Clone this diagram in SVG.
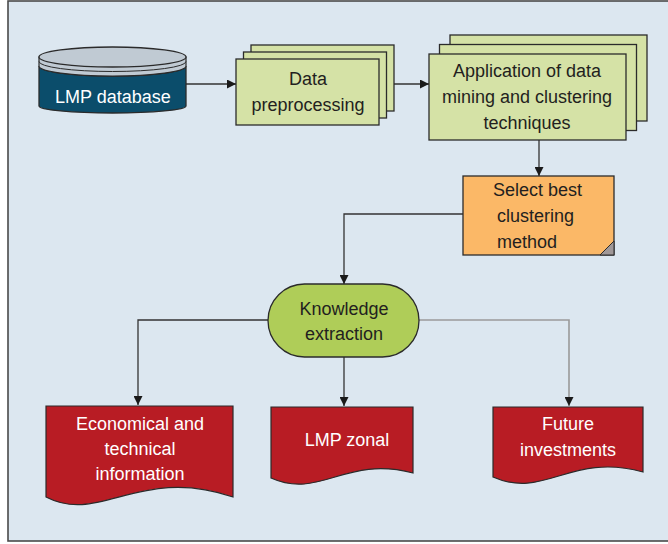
<svg xmlns="http://www.w3.org/2000/svg" width="668" height="544" viewBox="0 0 668 544">
  <defs>
    <marker id="arrow" viewBox="0 0 10 10" refX="10" refY="5" markerWidth="9" markerHeight="9" markerUnits="userSpaceOnUse" orient="auto">
      <path d="M0,0 L10,5 L0,10 Z" fill="#1a1a1a"/>
    </marker>
    <style>
      .lbl { font-family: "Liberation Sans", Arial, sans-serif; font-size: 18px; text-anchor: middle; fill: #231f20; }
      .lbl-w { font-family: "Liberation Sans", Arial, sans-serif; font-size: 18px; text-anchor: middle; fill: #ffffff; }
      .box { fill: #d5e2a6; stroke: #2b2b2b; stroke-width: 1.3; }
      .doc { fill: #b81c24; stroke: #2b2b2b; stroke-width: 1.2; }
      .conn { fill: none; stroke: #333333; stroke-width: 1.3; }
      .conn-light { fill: none; stroke: #9a9a9a; stroke-width: 1.6; }
    </style>
  </defs>

  <!-- panel -->
  <rect x="8" y="1" width="680" height="540" fill="#dce7f0" stroke="#4a4a4a" stroke-width="1.6"/>

  <!-- connectors -->
  <g id="connectors">
    <line class="conn" x1="186" y1="84" x2="236" y2="84" marker-end="url(#arrow)"/>
    <line class="conn" x1="394" y1="84" x2="429" y2="84" marker-end="url(#arrow)"/>
    <line class="conn" x1="539" y1="140" x2="539" y2="176" marker-end="url(#arrow)"/>
    <polyline class="conn" points="463,214 344,214 344,284" marker-end="url(#arrow)"/>
    <polyline class="conn" points="268,320 138,320 138,405" marker-end="url(#arrow)"/>
    <line class="conn" x1="344" y1="357" x2="344" y2="406" marker-end="url(#arrow)"/>
    <polyline class="conn-light" points="419,320 569,320 569,406" marker-end="url(#arrow)"/>
  </g>

  <!-- LMP database cylinder -->
  <g id="lmp-database">
    <path d="M39,66 A73.5,10 0 0 0 186,66 V106 A73.5,7 0 0 1 39,106 Z" fill="#0b4d6b" stroke="#2b2b2b" stroke-width="1.3"/>
    <path d="M39,57 V66 A73.5,10 0 0 0 186,66 V57 Z" fill="#c0cad3" stroke="#2b2b2b" stroke-width="1.2"/>
    <path d="M39,61.5 A73.5,10 0 0 0 186,61.5" fill="none" stroke="#2b2b2b" stroke-width="1"/>
    <ellipse cx="112.5" cy="57" rx="73.5" ry="10" fill="#c0cad3" stroke="#2b2b2b" stroke-width="1.3"/>
    <text class="lbl-w" x="113" y="103">LMP database</text>
  </g>

  <!-- Data preprocessing stack -->
  <g id="data-preprocessing">
    <rect class="box" x="251" y="45" width="143" height="66"/>
    <rect class="box" x="243.5" y="52" width="143" height="66"/>
    <rect class="box" x="236" y="59" width="143" height="66"/>
    <text class="lbl" x="308" y="85">Data</text>
    <text class="lbl" x="308" y="111">preprocessing</text>
  </g>

  <!-- Data mining and clustering stack -->
  <g id="data-mining">
    <rect class="box" x="450" y="35" width="197" height="86"/>
    <rect class="box" x="439.5" y="44.5" width="197" height="86"/>
    <rect class="box" x="429" y="54" width="197" height="86"/>
    <text class="lbl" x="527" y="77">Application of data</text>
    <text class="lbl" x="527" y="103">mining and clustering</text>
    <text class="lbl" x="527" y="129">techniques</text>
  </g>

  <!-- Select best clustering method -->
  <g id="select-method">
    <rect x="463" y="176" width="151" height="79" fill="#fbb867" stroke="#2b2b2b" stroke-width="1.3"/>
    <path d="M600,255 L614,241 L614,255 Z" fill="#a09898" stroke="#2b2b2b" stroke-width="1"/>
    <text class="lbl" x="493" y="196" style="text-anchor:start">Select best</text>
    <text class="lbl" x="497" y="222" style="text-anchor:start">clustering</text>
    <text class="lbl" x="497" y="248" style="text-anchor:start">method</text>
  </g>

  <!-- Knowledge extraction -->
  <g id="knowledge-extraction">
    <rect x="268" y="284" width="151" height="73" rx="36.5" ry="36.5" fill="#afcd58" stroke="#2b2b2b" stroke-width="1.3"/>
    <text class="lbl" x="344" y="315">Knowledge</text>
    <text class="lbl" x="344" y="340">extraction</text>
  </g>

  <!-- Economical and technical information -->
  <g id="economical-info">
    <path class="doc" d="M46,406 H233 V497 C140,465 100,525 46,497 Z"/>
    <text class="lbl-w" x="140" y="430">Economical and</text>
    <text class="lbl-w" x="140" y="455">technical</text>
    <text class="lbl-w" x="140" y="480">information</text>
  </g>

  <!-- LMP zonal -->
  <g id="lmp-zonal">
    <path class="doc" d="M271,407 H413 V473 C345,455 320,500 271,478 Z"/>
    <text class="lbl-w" x="347" y="446">LMP zonal</text>
  </g>

  <!-- Future investments -->
  <g id="future-investments">
    <path class="doc" d="M493,407 H643 V472 C570,452 545,500 493,477 Z"/>
    <text class="lbl-w" x="568" y="430">Future</text>
    <text class="lbl-w" x="568" y="456">investments</text>
  </g>
</svg>
